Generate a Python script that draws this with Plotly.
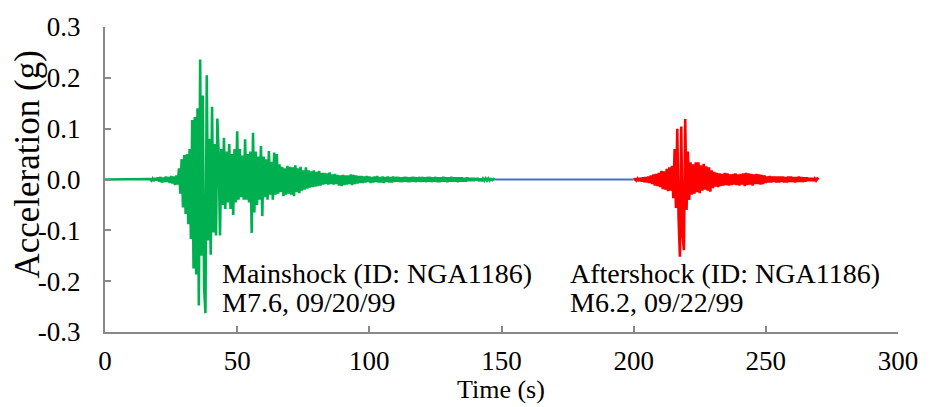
import numpy as np
import plotly.graph_objects as go

# Ground acceleration records (g), Chi-Chi sequence, station NGA1186.
# Time axis: uniform sampling grids; the pre-event part of the mainshock is quiet.
MAIN_START = 17.0     # s, first sample of the listed mainshock values
MAIN_DT = 0.5         # s
AFTER_START = 200.0   # s, aftershock record starts here on the combined axis
AFTER_DT = 0.5        # s

main_acc = [
    0.001, -0.002, 0.002, -0.003, 0.003, -0.002, 0.004, -0.004, 0.005, -0.006,
    0.004, -0.005, 0.006, -0.005, 0.005, -0.007, 0.007, -0.008, 0.006, -0.011,
    0.008, -0.010, 0.022, -0.028, 0.040, -0.055, 0.048, -0.068, 0.050, -0.088,
    0.060, -0.117, 0.117, -0.175, 0.123, -0.187, 0.140, -0.248, 0.236, -0.150,
    0.165, -0.213, -0.263, 0.205, -0.120, 0.080, -0.148, 0.143, -0.104, 0.070,
    -0.110, 0.120, 0.050, -0.110, 0.060, -0.050, 0.082, -0.058, 0.055, -0.045,
    0.070, -0.058, 0.050, -0.070, 0.060, -0.045, 0.095, -0.040, 0.060, -0.035,
    0.047, -0.040, 0.079, -0.040, 0.050, -0.045, 0.055, -0.105, 0.092, -0.065,
    0.055, -0.050, 0.045, -0.040, 0.066, -0.072, 0.045, -0.035, 0.040, -0.040,
    0.056, -0.030, 0.035, -0.040, 0.053, -0.030, 0.050, -0.028, 0.030, -0.025,
    0.025, -0.033, 0.022, -0.030, 0.027, -0.028, 0.025, -0.030, 0.024, -0.033,
    0.028, -0.025, 0.022, -0.027, 0.025, -0.022, 0.018, -0.020, 0.024, -0.018,
    0.018, -0.016, 0.016, -0.015, 0.018, -0.014, 0.015, -0.013, 0.017, -0.012,
    0.013, -0.010, 0.013, -0.009, 0.012, -0.010, 0.014, -0.009, 0.010, -0.010,
    0.011, -0.009, 0.009, -0.012, 0.008, -0.013, 0.009, -0.011, 0.008, -0.010,
    0.008, -0.009, 0.010, -0.011, 0.009, -0.009, 0.008, -0.008, 0.007, -0.007,
    0.007, -0.007, 0.006, -0.006, 0.007, -0.005, 0.006, -0.007, 0.005, -0.006,
    0.006, -0.005, 0.007, -0.006, 0.005, -0.006, 0.006, -0.007, 0.005, -0.005,
    0.006, -0.006, 0.005, -0.006, 0.006, -0.005, 0.005, -0.004, 0.005, -0.005,
    0.004, -0.005, 0.005, -0.004, 0.005, -0.005, 0.004, -0.005, 0.005, -0.004,
    0.005, -0.005, 0.004, -0.004, 0.005, -0.005, 0.005, -0.004, 0.004, -0.005,
    0.005, -0.004, 0.005, -0.005, 0.004, -0.004, 0.005, -0.005, 0.004, -0.005,
    0.004, -0.004, 0.005, -0.004, 0.004, -0.005, 0.004, -0.004, 0.005, -0.004,
    0.004, -0.004, 0.004, -0.005, 0.004, -0.004, 0.004, -0.004, 0.003, -0.004,
    0.004, -0.003, 0.003, -0.003, 0.003, -0.003, 0.003, -0.002, 0.003, -0.003,
    0.002, -0.003, 0.002, -0.002, 0.002, -0.002, 0.002, -0.002, 0.001, -0.001,
    0.001, 0.000,
]

after_acc = [
    0.000, 0.001, -0.002, 0.002, -0.003, 0.003, -0.004, 0.004, -0.005, 0.005,
    -0.006, 0.006, -0.007, 0.008, -0.009, 0.010, -0.012, 0.011, -0.013, 0.013,
    -0.015, 0.017, -0.019, 0.016, -0.020, 0.021, -0.023, 0.024, -0.022, 0.027,
    -0.037, 0.060, -0.056, 0.100, -0.075, -0.152, 0.104, -0.107, -0.139, 0.119,
    -0.060, 0.055, -0.040, 0.034, -0.030, 0.030, -0.028, 0.034, -0.025, 0.034,
    -0.027, 0.028, -0.022, 0.031, -0.020, 0.026, -0.022, 0.024, -0.024, 0.018,
    -0.017, 0.015, -0.014, 0.013, -0.015, 0.012, -0.013, 0.011, -0.012, 0.013,
    -0.011, 0.012, -0.012, 0.010, -0.011, 0.011, -0.010, 0.012, -0.011, 0.010,
    -0.012, 0.011, -0.010, 0.012, -0.013, 0.013, -0.011, 0.012, -0.010, 0.011,
    -0.012, 0.010, -0.009, 0.011, -0.009, 0.010, -0.010, 0.009, -0.009, 0.008,
    -0.007, 0.006, -0.006, 0.007, -0.006, 0.006, -0.005, 0.006, -0.006, 0.006,
    -0.006, 0.006, -0.005, 0.006, -0.006, 0.005, -0.006, 0.006, -0.005, 0.006,
    -0.005, 0.005, -0.006, 0.005, -0.005, 0.006, -0.005, 0.005, -0.005, 0.004,
    -0.004, 0.004, -0.003, 0.003, -0.003, 0.003, -0.003, 0.002, -0.002, 0.002,
    0.000,
]

# Quiet interval between the two records
gap_time = [147.5, 200.0]
gap_acc = [0.0, 0.0]

x_ticks = [0, 50, 100, 150, 200, 250, 300]
y_ticks = [-0.3, -0.2, -0.1, 0.0, 0.1, 0.2, 0.3]
y_tick_text = ["-0.3", "-0.2", "-0.1", "0.0", "0.1", "0.2", "0.3"]

main_time = np.concatenate([[0.0], MAIN_START + MAIN_DT * np.arange(len(main_acc))])
main_vals = np.concatenate([[0.0], main_acc])
after_time = AFTER_START + AFTER_DT * np.arange(len(after_acc))

GREEN = "#00B050"
RED = "#FF0000"
BLUE = "#4472C4"
AXIS = "#898989"
FONT = "Liberation Serif"

fig = go.Figure()
fig.add_trace(go.Scatter(x=gap_time, y=gap_acc, mode="lines",
                         line=dict(color=BLUE, width=2), showlegend=False))
fig.add_trace(go.Scatter(x=main_time, y=main_vals, mode="lines",
                         line=dict(color=GREEN, width=2.6), showlegend=False))
fig.add_trace(go.Scatter(x=after_time, y=after_acc, mode="lines",
                         line=dict(color=RED, width=2.6), showlegend=False))

W, H = 930, 407
L, R, T, B = 105, 25, 20, 75
pw, ph = W - L - R, H - T - B


def px(xp):
    return (xp - L) / pw


def py(yp):
    return (H - B - yp) / ph


# Event labels: (text, left edge px, vertical centre px)
labels = [
    ("Mainshock (ID: NGA1186)", 221, 272),
    ("M7.6, 09/20/99", 221, 302),
    ("Aftershock (ID: NGA1186)", 572, 272),
    ("M6.2, 09/22/99", 572, 302),
]
annotations = []
for text, xl, yc in labels:
    annotations.append(dict(text=text, xref="paper", yref="paper",
                            x=px(xl), y=py(yc), xanchor="left", yanchor="middle",
                            align="left", showarrow=False,
                            font=dict(family=FONT, size=28, color="black")))
annotations.append(dict(text="Acceleration (g)", xref="paper", yref="paper",
                        x=px(27), y=py(161), xanchor="center", yanchor="middle",
                        textangle=-90, showarrow=False,
                        font=dict(family=FONT, size=35, color="black")))
annotations.append(dict(text="Time (s)", xref="paper", yref="paper",
                        x=px(504), y=py(391), xanchor="center", yanchor="middle",
                        showarrow=False,
                        font=dict(family=FONT, size=26, color="black")))

fig.update_layout(
    width=W, height=H,
    margin=dict(l=L, r=R, t=T, b=B, pad=0),
    paper_bgcolor="white", plot_bgcolor="white",
    font=dict(family=FONT, size=27, color="black"),
    annotations=annotations,
    xaxis=dict(range=[0, 300], tickvals=x_ticks, ticks="inside", ticklen=6,
               tickwidth=1.5, tickcolor=AXIS, showline=True, linecolor=AXIS,
               linewidth=2, showgrid=False, zeroline=False,
               ticklabelstandoff=4, tickfont=dict(family=FONT, size=27)),
    yaxis=dict(range=[-0.3, 0.3], tickvals=y_ticks, ticktext=y_tick_text,
               ticks="inside", ticklen=6, tickwidth=1.5, tickcolor=AXIS,
               showline=True, linecolor=AXIS, linewidth=2, showgrid=False,
               zeroline=False, ticklabelstandoff=17,
               tickfont=dict(family=FONT, size=27)),
)

fig.write_html("out.html")
